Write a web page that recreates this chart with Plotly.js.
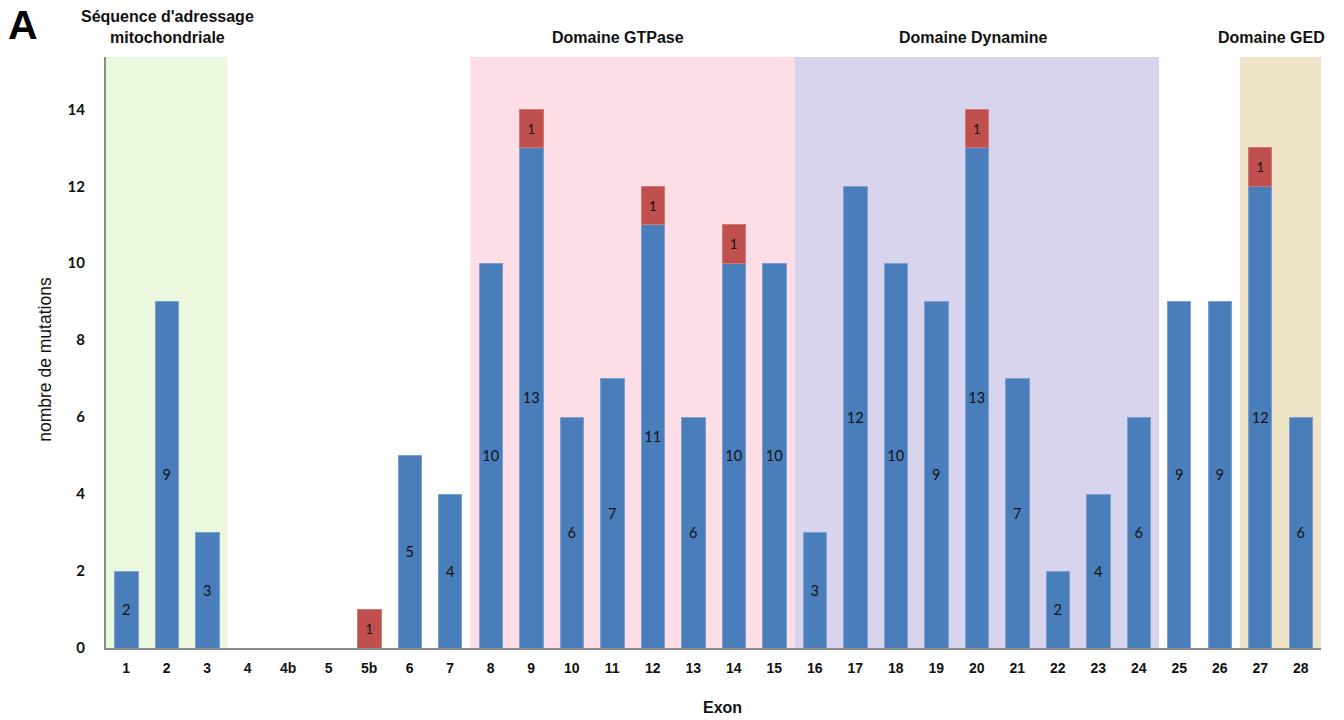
<!DOCTYPE html>
<html><head><meta charset="utf-8">
<script src="https://cdn.plot.ly/plotly-3.0.1.min.js"></script>
<style>body{margin:0;background:#fff}#c{width:1344px;height:720px}</style>
</head><body><div id="c"></div>
<script>
const exons = ['1','2','3','4','4b','5','5b','6','7','8','9','10','11','12','13','14','15','16','17','18','19','20','21','22','23','24','25','26','27','28'];
const blueValues = [2,9,3,0,0,0,0,5,4,10,13,6,7,11,6,10,10,3,12,10,9,13,7,2,4,6,9,9,12,6];
const redValues = [null,null,null,null,null,null,1,null,null,null,1,null,null,1,null,1,null,null,null,null,null,1,null,null,null,null,null,null,1,null];
const domainNames = ["Séquence d'adressage<br>mitochondriale","Domaine GTPase","Domaine Dynamine","Domaine GED"];
const domainFirst = ['1','8','16','27'];
const domainLast = ['3','15','24','28'];
const domainColors = ['#ebf8dd','#fddde6','#d9d4ee','#eee2c7'];
const domainLabelPos = [1.01, 12.14, 20.91, 28.28];

const calib = 'Lato, "Open Sans", sans-serif';
const arial = '"Liberation Sans", Arial, sans-serif';

const blue = {
  type:'bar', x:exons, y:blueValues,
  marker:{color:'#4a7ebb', line:{color:'#7aa0d2', width:1}},
  text: blueValues.map(v => v ? String(v) : ''),
  textposition:'inside', insidetextanchor:'middle', textangle:0,
  constraintext:'none',
  textfont:{family:calib, size:14.5, color:'#111'},
  hoverinfo:'x+y'
};
const red = {
  type:'bar', x:exons, y:redValues,
  marker:{color:'#c0504d', line:{color:'#d07a78', width:1}},
  text: redValues.map(v => v ? String(v) : ''),
  textposition:'inside', insidetextanchor:'middle', textangle:0,
  constraintext:'none',
  textfont:{family:calib, size:13, color:'#111'},
  hoverinfo:'x+y'
};

const shapes = domainFirst.map((f,i) => ({
  type:'rect', layer:'below', xref:'x', yref:'paper',
  x0: exons.indexOf(f)-0.5, x1: exons.indexOf(domainLast[i])+0.5,
  y0:0, y1:1, fillcolor:domainColors[i], line:{width:0}
}));

const annotations = domainNames.map((t,i) => ({
  text:t, x:domainLabelPos[i], xref:'x', yref:'paper', y:1.0147, yanchor:'bottom',
  showarrow:false, font:{family:arial, size:16, color:'#111', weight:'bold'}
}));
annotations.push({text:'A', xref:'paper', yref:'paper', x:-0.0681, y:1.0536, xanchor:'center', yanchor:'middle',
  showarrow:false, font:{family:arial, size:41, color:'#000', weight:'bold'}});
annotations.push({text:'Exon', xref:'paper', yref:'paper', x:0.507, y:-0.1015, xanchor:'center', yanchor:'middle',
  showarrow:false, font:{family:arial, size:16, color:'#111', weight:'bold'}});
annotations.push({text:'nombre de mutations', xref:'paper', yref:'paper', x:-0.0505, y:0.4888, xanchor:'center', yanchor:'middle',
  textangle:-90, showarrow:false, font:{family:arial, size:17.5, color:'#111'}});

const layout = {
  width:1344, height:720,
  margin:{l:106, r:23, t:57, b:72},
  paper_bgcolor:'#fff', plot_bgcolor:'rgba(0,0,0,0)',
  barmode:'stack', bargap:0.42, showlegend:false,
  xaxis:{type:'category', categoryorder:'array', categoryarray:exons,
    range:[-0.5, 29.5], showgrid:false, zeroline:false,
    showline:true, linecolor:'#8c8c8c', linewidth:2, ticks:'',
    ticklabelstandoff:6,
    tickfont:{family:arial, size:14, color:'#111', weight:'bold'}},
  yaxis:{range:[0,15.36], tickvals:[0,2,4,6,8,10,12,14], showgrid:false, zeroline:false,
    showline:true, linecolor:'#8c8c8c', linewidth:2, ticks:'',
    ticklabelstandoff:16,
    tickfont:{family:calib, size:15, color:'#111', weight:'bold'}},
  shapes:shapes, annotations:annotations
};
Plotly.newPlot('c',[blue,red],layout,{displayModeBar:false, staticPlot:true});
</script></body></html>
